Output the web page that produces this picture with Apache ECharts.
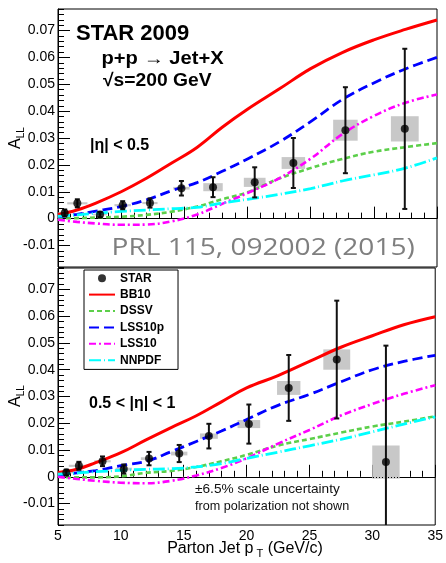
<!DOCTYPE html>
<html><head><meta charset="utf-8">
<script src="https://cdn.jsdelivr.net/npm/echarts@6/dist/echarts.min.js"></script>
<style>html,body{margin:0;padding:0;background:#fff;}#c{width:446px;height:563px;}</style>
</head><body><div id="c"></div>
<script>
// ---------- data ----------
const curveX = [5, 6.5, 8, 10, 12, 14, 16, 18, 20, 22.5, 25, 27.5, 30, 32.5, 35];

// |eta| < 0.5 (top panel)
const bb10Top   = [0.0015,0.0032,0.0058,0.0100,0.0150,0.0207,0.0265,0.0340,0.0407,0.0482,0.0558,0.0618,0.0665,0.0704,0.0739];
const dssvTop   = [0.0001,0.0002,0.0004,0.0007,0.0014,0.0026,0.0045,0.0072,0.0098,0.0149,0.0188,0.0222,0.0249,0.0266,0.0281];
const lss10pTop = [0.0007,0.0016,0.0028,0.0045,0.0070,0.0104,0.0134,0.0176,0.0222,0.0285,0.0361,0.0443,0.0505,0.0557,0.0600];
const lss10Top  = [-0.0004,-0.0012,-0.0018,-0.0023,-0.0022,-0.0010,0.0015,0.0055,0.0095,0.0150,0.0223,0.0314,0.0382,0.0431,0.0462];
const nnpdfTop  = [0.0008,0.0014,0.0020,0.0027,0.0032,0.0037,0.0042,0.0058,0.0072,0.0090,0.0112,0.0140,0.0163,0.0188,0.0226];

const starPtTop   = [5.53, 6.53, 8.33, 10.12, 12.28, 14.77, 17.27, 20.57, 23.63, 27.75, 32.45];
const starAllTop  = [0.0021, 0.0057, 0.0015, 0.0050, 0.0058, 0.0113, 0.0117, 0.0135, 0.0207, 0.0329, 0.0334];
const starStatTop = [0.0013, 0.0015, 0.0010, 0.0015, 0.0017, 0.0027, 0.0037, 0.0056, 0.0093, 0.0160, 0.0298];
const starSysTop  = [0.0003, 0.0004, 0.0003, 0.0004, 0.0004, 0.0005, 0.0015, 0.0017, 0.0022, 0.0039, 0.0047];
const starBinTop  = [0.5, 0.8, 0.55, 0.65, 0.6, 0.65, 0.77, 0.86, 0.93, 0.97, 1.1];

// 0.5 < |eta| < 1 (bottom panel)
const bb10Bot   = [0.0016,0.0028,0.0053,0.0090,0.0138,0.0184,0.0228,0.0280,0.0332,0.0378,0.0431,0.0484,0.0527,0.0568,0.0598];
const dssvBot   = [0.0000,-0.0002,-0.0002,0.0002,0.0015,0.0022,0.0037,0.0058,0.0082,0.0117,0.0141,0.0165,0.0188,0.0206,0.0226];
const lss10pBot = [0.0006,0.0015,0.0023,0.0042,0.0058,0.0094,0.0132,0.0171,0.0214,0.0267,0.0308,0.0355,0.0400,0.0431,0.0454];
const lss10Bot  = [0.0000,-0.0008,-0.0015,-0.0022,-0.0024,-0.0015,0.0005,0.0033,0.0069,0.0124,0.0175,0.0229,0.0272,0.0310,0.0342];
const nnpdfBot  = [0.0010,0.0014,0.0019,0.0024,0.0028,0.0030,0.0037,0.0049,0.0069,0.0092,0.0116,0.0140,0.0168,0.0197,0.0224];

const starPtBot   = [5.66, 6.66, 8.54, 10.23, 12.24, 14.64, 17.0, 20.18, 23.35, 27.17, 31.08];
const starAllBot  = [0.0016, 0.0041, 0.0058, 0.0029, 0.0068, 0.0087, 0.0152, 0.0197, 0.0332, 0.0438, 0.0055];
const starStatBot = [0.0011, 0.0015, 0.0018, 0.0017, 0.0025, 0.0032, 0.0046, 0.0073, 0.0123, 0.0220, 0.0435];
const starSysBot  = [0.0003, 0.0004, 0.0004, 0.0005, 0.0005, 0.0007, 0.0010, 0.0015, 0.0026, 0.0038, 0.0062];
const starBinBot  = [0.55, 0.8, 0.65, 0.65, 0.65, 0.65, 0.71, 0.9, 0.93, 1.07, 1.09];

const yTickValues = [-0.01, 0, 0.01, 0.02, 0.03, 0.04, 0.05, 0.06, 0.07];
const xTickValues = [5, 10, 15, 20, 25, 30, 35];

// ---------- chart ----------
const FONT = '"Liberation Sans", Arial, Helvetica, sans-serif';
const Y_MIN = -0.018, Y_MAX = 0.078;
const minorY = [];
for (let k = -9; k <= 39; k++) {
  const v = Math.round(k * 2) / 1000;
  if (Math.abs(v * 100 - Math.round(v * 100)) > 1e-6) minorY.push(v);
}

const panels = [
  {bb10: bb10Top, dssv: dssvTop, lss10p: lss10pTop, lss10: lss10Top, nnpdf: nnpdfTop,
   pt: starPtTop, all: starAllTop, stat: starStatTop, sys: starSysTop, bin: starBinTop},
  {bb10: bb10Bot, dssv: dssvBot, lss10p: lss10pBot, lss10: lss10Bot, nnpdf: nnpdfBot,
   pt: starPtBot, all: starAllBot, stat: starStatBot, sys: starSysBot, bin: starBinBot}
];

const curveDefs = [
  {key: 'bb10',   name: 'BB10',   color: '#ff0000', width: 3,   type: 'solid'},
  {key: 'dssv',   name: 'DSSV',   color: '#5ccf4a', width: 2.6, type: [5, 3]},
  {key: 'lss10p', name: 'LSS10p', color: '#0000ff', width: 2.8, type: [10, 5]},
  {key: 'lss10',  name: 'LSS10',  color: '#ff00ff', width: 2.6, type: [7, 3, 2, 3]},
  {key: 'nnpdf',  name: 'NNPDF',  color: '#00ffff', width: 2.8, type: [12, 3, 1, 3]}
];

const grids = [
  {left: 58, top: 9, width: 379, height: 258, show: true, borderColor: '#000', borderWidth: 1},
  {left: 58, top: 268, width: 379, height: 257, show: true, borderColor: '#000', borderWidth: 1}
];

const xAxes = [], yAxes = [], series = [];
[0, 1].forEach(g => {
  xAxes.push({
    gridIndex: g, type: 'value', min: 5, max: 35, interval: 5, position: 'bottom',
    axisLine: {show: true, lineStyle: {color: '#000', width: 1}},
    axisTick: {show: true, inside: true, length: 12, lineStyle: {color: '#000'}},
    minorTick: {show: true, splitNumber: 5, length: 6, lineStyle: {color: '#000'}},
    splitLine: {show: false},
    axisLabel: {show: g === 1, margin: 4, fontFamily: FONT, fontSize: 14, color: '#000'}
  });
  yAxes.push({
    gridIndex: g, type: 'value', min: Y_MIN, max: Y_MAX, position: 'left',
    axisLine: {show: true, lineStyle: {color: '#000', width: 1}},
    axisTick: {show: true, inside: true, length: 12, customValues: yTickValues, lineStyle: {color: '#000'}},
    splitLine: {show: false},
    axisLabel: {customValues: yTickValues, margin: 3, fontFamily: FONT, fontSize: 14, color: '#000',
      formatter: v => (Math.abs(v) < 1e-9 ? '0' : v.toFixed(2))}
  });
  yAxes.push({
    gridIndex: g, type: 'value', min: Y_MIN, max: Y_MAX, position: 'left', offset: 0,
    axisLine: {show: false},
    axisTick: {show: true, inside: true, length: 6, customValues: minorY, lineStyle: {color: '#000'}},
    splitLine: {show: false},
    axisLabel: {show: false}
  });

  const P = panels[g];
  // systematic boxes
  series.push({
    type: 'custom', xAxisIndex: g, yAxisIndex: 2 * g, z: 1, silent: true,
    data: P.pt.map((x, i) => [x, P.all[i], P.bin[i], P.sys[i]]),
    encode: {x: 0, y: 1},
    renderItem: (params, api) => {
      const x = api.value(0), y = api.value(1), hw = api.value(2), hh = api.value(3);
      const p1 = api.coord([x - hw, y + hh]), p2 = api.coord([x + hw, y - hh]);
      const r = echarts.graphic.clipRectByRect(
        {x: p1[0], y: p1[1], width: p2[0] - p1[0], height: Math.max(p2[1] - p1[1], 1.5)},
        {x: params.coordSys.x, y: params.coordSys.y, width: params.coordSys.width, height: params.coordSys.height});
      return r ? {type: 'rect', shape: r, style: {fill: '#c8c8c8'}} : null;
    }
  });
  // theory curves
  curveDefs.forEach((c, ci) => {
    const s = {
      type: 'line', name: c.name, xAxisIndex: g, yAxisIndex: 2 * g, z: 3, silent: true,
      data: curveX.map((x, i) => [x, P[c.key][i]]),
      smooth: 0.4, symbol: 'none',
      lineStyle: {color: c.color, width: c.width, type: c.type},
      itemStyle: {color: c.color, opacity: 0}
    };
    if (ci === 0) {
      s.markLine = {silent: true, symbol: 'none', label: {show: false}, z: 2,
        lineStyle: {color: '#000', width: 1, type: [1, 2], opacity: 1}, data: [{yAxis: 0}]};
    }
    series.push(s);
  });
  // statistical error bars
  series.push({
    type: 'custom', xAxisIndex: g, yAxisIndex: 2 * g, z: 5, silent: true,
    data: P.pt.map((x, i) => [x, P.all[i], P.stat[i]]),
    encode: {x: 0, y: 1},
    renderItem: (params, api) => {
      const x = api.value(0), y = api.value(1), e = api.value(2);
      const top = api.coord([x, y + e]), bot = api.coord([x, y - e]);
      const cs = params.coordSys;
      const yT = Math.max(top[1], cs.y), yB = Math.min(bot[1], cs.y + cs.height);
      const st = {stroke: '#111', lineWidth: 2};
      const ch = [{type: 'line', shape: {x1: top[0], y1: yT, x2: top[0], y2: yB}, style: st}];
      if (top[1] >= cs.y) ch.push({type: 'line', shape: {x1: top[0] - 2.5, y1: top[1], x2: top[0] + 2.5, y2: top[1]}, style: st});
      if (bot[1] <= cs.y + cs.height) ch.push({type: 'line', shape: {x1: bot[0] - 2.5, y1: bot[1], x2: bot[0] + 2.5, y2: bot[1]}, style: st});
      return {type: 'group', children: ch};
    }
  });
  // points
  series.push({
    type: 'scatter', name: 'STAR', xAxisIndex: g, yAxisIndex: 2 * g, z: 6, silent: true,
    data: P.pt.map((x, i) => [x, P.all[i]]),
    symbol: 'circle', symbolSize: 8, itemStyle: {color: '#000'}
  });
});

function txt(x, y, text, size, opts) {
  opts = opts || {};
  return Object.assign({
    type: 'text', x: x, y: y, z: 50, silent: true,
    style: Object.assign({
      text: text, fontFamily: FONT, fontSize: size, fontWeight: opts.bold ? 'bold' : 'normal',
      fill: opts.color || '#000', align: opts.align || 'left', verticalAlign: 'middle',
      textAlign: opts.align || 'left', textVerticalAlign: 'middle'
    }, opts.style || {})
  }, opts.el || {});
}

const graphic = [
  txt(76, 33.5, 'STAR 2009', 22, {bold: true}),
  txt(101.5, 59, 'p+p \u2192 Jet+X', 18, {bold: true, el: {scaleX: 1.12}}),
  txt(103, 81, '\u221As=200 GeV', 18, {bold: true, el: {scaleX: 1.07}}),
  txt(90, 146, '|\u03B7| < 0.5', 16, {bold: true}),
  txt(111.5, 248, 'PRL 115, 092002 (2015)', 24, {color: '#7f7f7f', style: {fontFamily: '"Open Sans", "Noto Sans", sans-serif'}, el: {scaleX: 1.17}}),
  txt(89, 404, '0.5 < |\u03B7| < 1', 16, {bold: true}),
  txt(195, 489.5, '\u00B16.5% scale uncertainty', 13, {color: '#111', el: {scaleX: 1.05}}),
  txt(195, 506, 'from polarization not shown', 13, {color: '#111', el: {scaleX: 0.97}}),
  {
    type: 'text', x: 245, y: 549, z: 50, silent: true,
    style: {
      text: '{a|Parton Jet p}{s| T}{a| (GeV/c)}', align: 'center', verticalAlign: 'middle',
      textAlign: 'center', textVerticalAlign: 'middle',
      rich: {
        a: {fontFamily: FONT, fontSize: 16, lineHeight: 20, fill: '#000', color: '#000'},
        s: {fontFamily: FONT, fontSize: 11, fill: '#000', color: '#000', verticalAlign: 'bottom'}
      }
    }
  }
];
[138, 396].forEach(cy => {
  graphic.push({
    type: 'text', x: 16, y: cy, rotation: Math.PI / 2, z: 50, silent: true,
    style: {
      text: '{a|A}{s|LL}', align: 'center', verticalAlign: 'middle',
      textAlign: 'center', textVerticalAlign: 'middle',
      rich: {
        a: {fontFamily: FONT, fontSize: 16, lineHeight: 20, fill: '#000', color: '#000'},
        s: {fontFamily: FONT, fontSize: 10, fill: '#000', color: '#000', verticalAlign: 'bottom'}
      }
    }
  });
});

const chart = echarts.init(document.getElementById('c'), null, {renderer: 'canvas'});
chart.setOption({
  animation: false,
  backgroundColor: '#fff',
  grid: grids,
  xAxis: xAxes,
  yAxis: yAxes,
  legend: {
    orient: 'vertical', left: 84, top: 270, padding: [2, 14, 3, 4],
    itemWidth: 26, itemHeight: 8, itemGap: 4, selectedMode: false,
    borderColor: '#000', borderWidth: 1, backgroundColor: '#fff', z: 20,
    textStyle: {fontFamily: FONT, fontWeight: 'bold', fontSize: 12, color: '#000', lineHeight: 12.4},
    data: ['STAR', 'BB10', 'DSSV', 'LSS10p', 'LSS10', 'NNPDF']
  },
  series: series,
  graphic: graphic
});
</script></body></html>
